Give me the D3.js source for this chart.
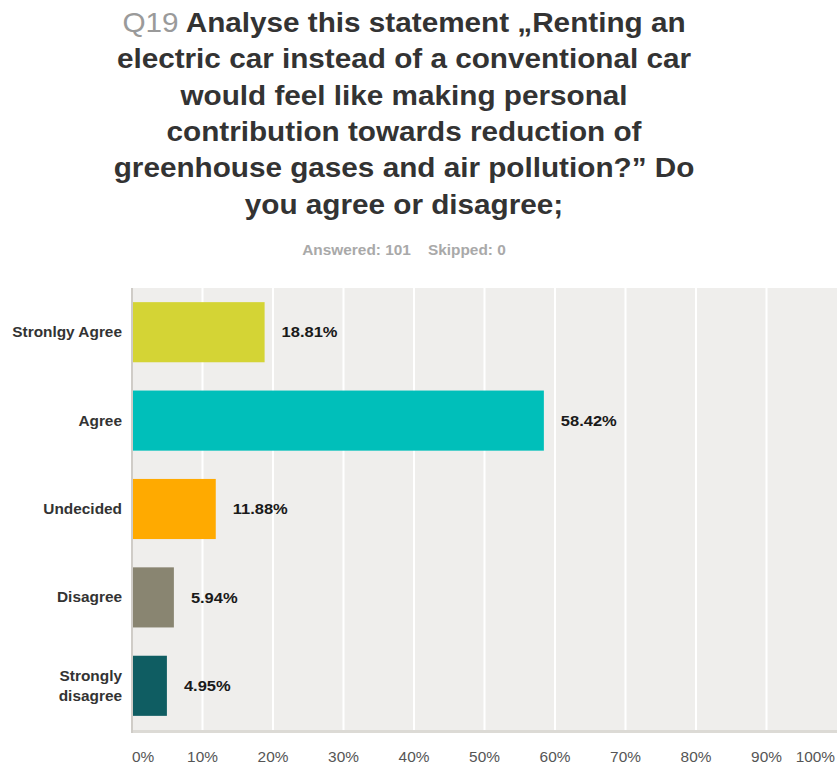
<!DOCTYPE html>
<html>
<head>
<meta charset="utf-8">
<script src="https://cdn.jsdelivr.net/npm/d3@7"></script>
<style>
  html, body { margin: 0; padding: 0; background: #fff; }
  svg { display: block; font-family: "Liberation Sans", Arial, Helvetica, sans-serif; }
</style>
</head>
<body>
<svg id="chart" width="837" height="764"></svg>
<script>
// Survey answers, Q19
const categories = ["Stronlgy Agree", "Agree", "Undecided", "Disagree", "Strongly disagree"];
const values = [18.81, 58.42, 11.88, 5.94, 4.95];
const barColors = ["#d4d435", "#00bfba", "#ffaa00", "#898571", "#0f5d62"];
const xTicks = [0, 10, 20, 30, 40, 50, 60, 70, 80, 90, 100];
const titleLines = [
  ["Q19", " Analyse this statement \u201eRenting an"],
  ["", "electric car instead of a conventional car"],
  ["", "would feel like making personal"],
  ["", "contribution towards reduction of"],
  ["", "greenhouse gases and air pollution?\u201d Do"],
  ["", "you agree or disagree;"]
];
const subtitle = "Answered: 101    Skipped: 0";

const svg = d3.select("#chart");
const plot = { left: 132, right: 837, top: 288, bottom: 730 };
const SX = 1.1; // the report font is set a little wide

// Text anchored at (x, y), widened horizontally by sx
function label(parent, x, y, sx) {
  return parent.append("g")
    .attr("transform", `translate(${x},${y}) scale(${sx},1)`)
    .append("text").attr("x", 0).attr("y", 0);
}

// Title block
const cx = 404;
titleLines.forEach((line, i) => {
  const t = label(svg, cx, 32 + i * 36.3, 1.08)
    .attr("text-anchor", "middle")
    .attr("font-size", 27.5).attr("font-weight", "bold").attr("fill", "#333");
  if (line[0]) t.append("tspan").attr("fill", "#9a9a9a").attr("font-weight", "normal").text(line[0]);
  t.append("tspan").text(line[1]);
});

label(svg, cx, 255, SX)
  .attr("text-anchor", "middle")
  .attr("font-size", 14).attr("font-weight", "bold").attr("fill", "#a9a9a9")
  .style("white-space", "pre")
  .text(subtitle);

// Scales
const x = d3.scaleLinear().domain([0, 100]).range([plot.left, plot.right]);
const y = d3.scaleBand().domain(categories).range([plot.top, plot.bottom])
  .paddingInner(0.32).paddingOuter(0.16);

// Plot background
svg.append("rect")
  .attr("x", plot.left).attr("y", plot.top)
  .attr("width", plot.right - plot.left).attr("height", plot.bottom - plot.top)
  .attr("fill", "#efeeec");

// Vertical gridlines
svg.append("g").selectAll("line").data(xTicks.filter(d => d > 0 && d < 100)).join("line")
  .attr("x1", d => x(d)).attr("x2", d => x(d))
  .attr("y1", plot.top).attr("y2", plot.bottom)
  .attr("stroke", "#ffffff").attr("stroke-width", 2);

// Baseline and left axis
svg.append("rect")
  .attr("x", plot.left).attr("y", plot.bottom)
  .attr("width", plot.right - plot.left).attr("height", 3)
  .attr("fill", "#dcdad5");
svg.append("line")
  .attr("x1", plot.left).attr("x2", plot.left)
  .attr("y1", plot.top).attr("y2", plot.bottom + 3)
  .attr("stroke", "#cfccc7").attr("stroke-width", 2);

// Bars
svg.append("g").selectAll("rect").data(categories).join("rect")
  .attr("x", x(0) + 1)
  .attr("y", d => y(d))
  .attr("width", (d, i) => x(values[i]) - x(0) - 1)
  .attr("height", y.bandwidth())
  .attr("fill", (d, i) => barColors[i]);

// Value labels
const valG = svg.append("g");
categories.forEach((c, i) => {
  label(valG, x(values[i]) + 17, y(c) + y.bandwidth() / 2, SX)
    .attr("dy", "0.35em")
    .attr("font-size", 15).attr("font-weight", "bold").attr("fill", "#1a1a1a")
    .text(values[i].toFixed(2) + "%");
});

// Category labels (wrapped where they were wrapped)
const catLines = { "Strongly disagree": ["Strongly", "disagree"] };
const catG = svg.append("g");
categories.forEach(c => {
  const lines = catLines[c] || [c];
  const cy = y(c) + y.bandwidth() / 2;
  const lh = 20;
  lines.forEach((ln, j) => {
    label(catG, 122, cy + (j - (lines.length - 1) / 2) * lh, SX)
      .attr("dy", "0.35em")
      .attr("text-anchor", "end")
      .attr("font-size", 14).attr("font-weight", "bold").attr("fill", "#333")
      .text(ln);
  });
});

// X tick labels
const tickG = svg.append("g");
xTicks.forEach(d => {
  label(tickG, d === 0 ? x(d) : d === 100 ? x(d) - 2 : x(d), 762, SX)
    .attr("text-anchor", d === 0 ? "start" : d === 100 ? "end" : "middle")
    .attr("font-size", 14).attr("fill", "#555")
    .text(d + "%");
});
</script>
</body>
</html>
